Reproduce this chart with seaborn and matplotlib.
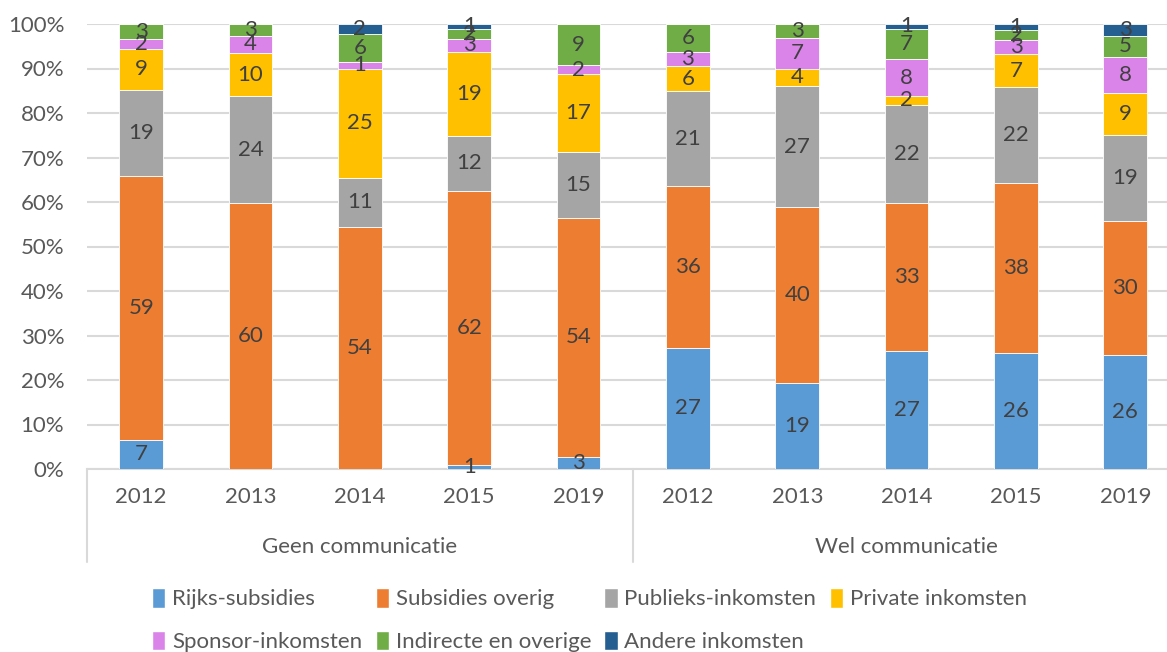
import numpy as np
import pandas as pd
import seaborn as sns
from matplotlib import pyplot as plt
from matplotlib.patches import Patch
from matplotlib.lines import Line2D

sns.set_style('white')
plt.rcParams['font.family'] = ['Lato', 'DejaVu Sans']

groups = ['Geen communicatie', 'Wel communicatie']
years = ['2012', '2013', '2014', '2015', '2019']

# values per bar: Geen 2012..2019, then Wel 2012..2019
rijks = [6.6, 0, 0, 0.9, 2.7, 27.2, 19.3, 26.6, 26.1, 25.6]
subsidies = [59.1, 59.8, 54.4, 61.6, 53.7, 36.4, 39.6, 33.2, 38.2, 30.1]
publiek = [19.4, 24.0, 11.0, 12.4, 14.8, 21.3, 27.1, 22.1, 21.6, 19.4]
private = [9.2, 9.8, 24.6, 18.9, 17.3, 5.6, 4.0, 1.9, 7.3, 9.4]
sponsor = [2.2, 3.9, 1.4, 2.9, 2.1, 3.2, 6.9, 8.3, 3.2, 8.2]
indirect = [3.4, 2.6, 6.4, 2.2, 9.2, 6.2, 3.1, 6.8, 2.3, 4.8]
andere = [0, 0, 2.2, 1.1, 0, 0.1, 0, 1.1, 1.3, 2.6]

series = ['Rijks-subsidies', 'Subsidies overig', 'Publieks-inkomsten', 'Private inkomsten',
          'Sponsor-inkomsten', 'Indirecte en overige', 'Andere inkomsten']
colors = ['#5B9BD5', '#ED7D31', '#A5A5A5', '#FFC000', '#DA84E9', '#70AD47', '#255E91']

df = pd.DataFrame(np.array([rijks, subsidies, publiek, private, sponsor, indirect, andere]).T,
                  columns=series)
df['cat'] = [g[:4] + ' ' + y for g in groups for y in years]
totals = df[series].sum(axis=1)
pct = df[series].div(totals, axis=0) * 100

fs = 16
fig = plt.figure(figsize=(11.67, 6.52), dpi=100)
# plot area runs a little past the right edge of the picture, as in the original
ax = fig.add_axes([86.5 / 1167, 183 / 652, 1093.5 / 1167, 445 / 652])

bottom = np.zeros(len(df))
for s, c in zip(series, colors):
    sns.barplot(x=df['cat'], y=pct[s], bottom=bottom, color=c, saturation=1, width=0.4,
                edgecolor='white', linewidth=0.6, ax=ax, zorder=3)
    for i, (v, h) in enumerate(zip(df[s], pct[s])):
        if round(v) >= 1:
            ax.text(i, bottom[i] + h / 2, f'{v:.0f}', ha='center', va='center',
                    fontsize=fs, color='#404040', zorder=5)
    bottom = bottom + pct[s].values

ax.set_xlim(-0.5, 9.5)
ax.set_ylim(0, 100)
ax.set_yticks(range(0, 101, 10))
ax.set_yticklabels([f'{t}%' for t in range(0, 101, 10)], fontsize=fs, color='#595959')
ax.yaxis.grid(True, color='#D9D9D9', linewidth=1.5, zorder=0)
ax.tick_params(axis='y', length=0, pad=16)
ax.set_xticks([])
ax.set_xlabel('')
ax.set_ylabel('')
for sp in ['top', 'right', 'left']:
    ax.spines[sp].set_visible(False)
ax.spines['bottom'].set_color('#D9D9D9')
ax.spines['bottom'].set_linewidth(1.5)

# two-level category axis
trans = ax.get_xaxis_transform()
for i, lab in enumerate(years * 2):
    ax.text(i, -28 / 445, lab, transform=trans, ha='center', va='center',
            fontsize=fs, color='#595959')
for g, gi in enumerate(groups):
    ax.text(2 + 5 * g, -78 / 445, gi, transform=trans, ha='center', va='center',
            fontsize=fs, color='#595959')
for xs in [-0.5, 4.5]:
    ax.add_line(Line2D([xs, xs], [0, -93 / 445], transform=trans, color='#D9D9D9',
                       linewidth=1.5, clip_on=False))

handles = [Patch(facecolor=c, label=s) for s, c in zip(series, colors)]
order = [0, 4, 1, 5, 2, 6, 3]
fig.legend([handles[i] for i in order], [series[i] for i in order],
           loc='center', bbox_to_anchor=(0.505, 1 - 620 / 652), ncol=4,
           frameon=False, fontsize=fs, handlelength=0.6, handleheight=1.0,
           handletextpad=0.3, columnspacing=0.6, labelspacing=0.95,
           labelcolor='#595959')

plt.savefig('out.png', dpi=100)
